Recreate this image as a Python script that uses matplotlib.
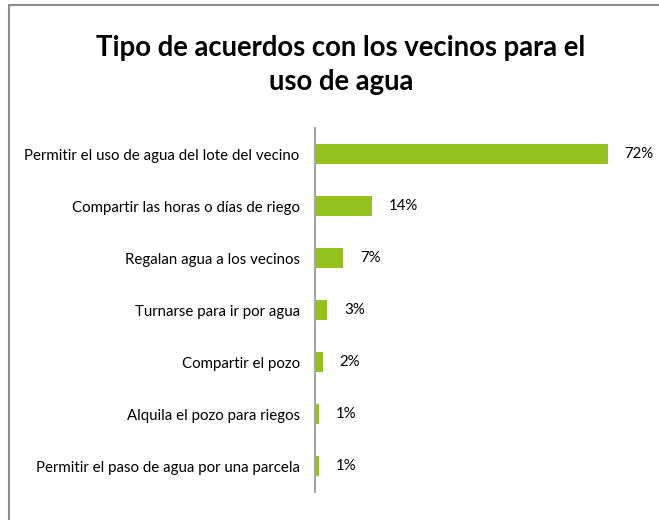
import matplotlib
import matplotlib.pyplot as plt
from matplotlib.patches import Rectangle

matplotlib.use("Agg")

CATEGORIES = [
    "Permitir el uso de agua del lote del vecino",
    "Compartir las horas o días de riego",
    "Regalan agua a los vecinos",
    "Turnarse para ir por agua",
    "Compartir el pozo",
    "Alquila el pozo para riegos",
    "Permitir el paso de agua por una parcela",
]
VALUES = [72, 14, 7, 3, 2, 1, 1]
VALUE_LABELS = ["72%", "14%", "7%", "3%", "2%", "1%", "1%"]
TITLE = "Tipo de acuerdos con los vecinos para el\nuso de agua"

GREEN = "#95C11F"
FONT = ["Lato", "DejaVu Sans"]

plt.rcParams["font.family"] = FONT

W, H = 659, 520
fig = plt.figure(figsize=(W / 100, H / 100), dpi=100, facecolor="white")

# outer frame (only left and top edges visible in the original)
fig.add_artist(Rectangle((9 / W, -0.02), 1.2, (H - 5) / H + 0.02, transform=fig.transFigure,
                         fill=False, edgecolor="#8C8C8C", linewidth=1.5))

fig.text(341 / W, 1 - 65 / H, TITLE, ha="center", va="center", fontsize=19.8,
         fontweight="bold", linespacing=1.38, color="black")

left, right = 315 / W, 640 / W
bottom, top = 1 - 492 / H, 1 - 128 / H
ax = fig.add_axes((left, bottom, right - left, top - bottom))
ax.set_facecolor("none")

pos = list(range(len(CATEGORIES)))
ax.barh(pos, VALUES, height=0.38, color=GREEN, edgecolor="none")
ax.set_ylim(len(CATEGORIES) - 0.5, -0.5)
ax.set_xlim(0, 80)

for y, v, lab in zip(pos, VALUES, VALUE_LABELS):
    ax.annotate(lab, (v, y), xytext=(12, 0), textcoords="offset points",
                ha="left", va="center", fontsize=10.8, color="black")

ax.set_yticks(pos)
ax.set_yticklabels(CATEGORIES, fontsize=10.8, color="black")
ax.tick_params(axis="y", length=0, pad=11)
ax.set_xticks([])
for side in ("top", "right", "bottom"):
    ax.spines[side].set_visible(False)
ax.spines["left"].set_color("#A6A6A6")
ax.spines["left"].set_linewidth(1.5)

fig.savefig("out.png", dpi=100, facecolor="white")
plt.close(fig)
